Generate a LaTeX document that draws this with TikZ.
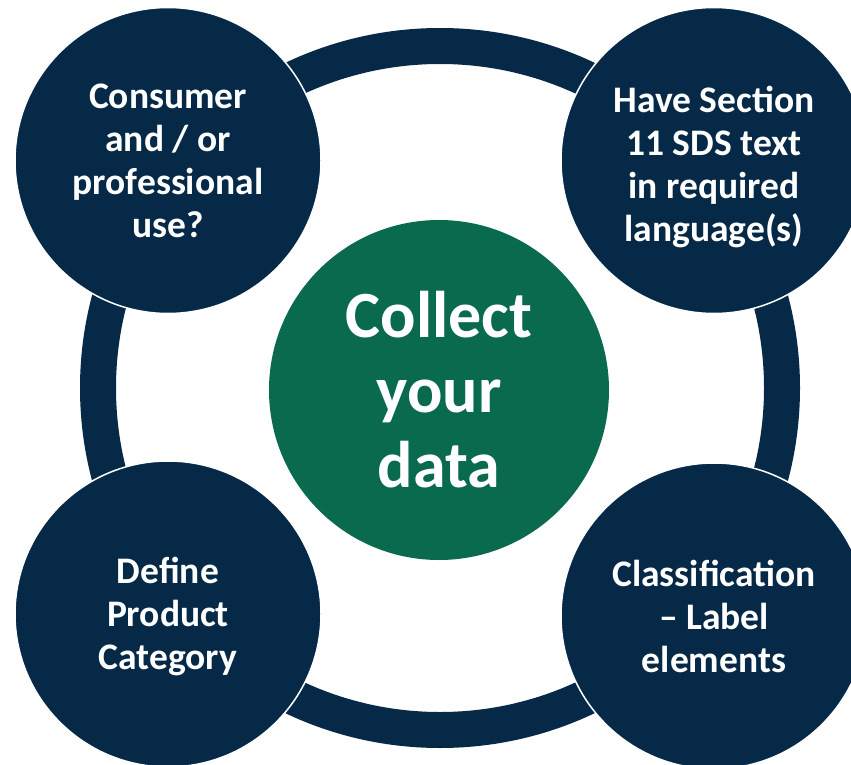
\documentclass[tikz,border=0pt]{standalone}
\usepackage{fontspec}
\setmainfont{Carlito}
\definecolor{navy}{HTML}{072948}
\definecolor{dgreen}{HTML}{0A6A4E}
\tikzset{
  bubble/.style={circle, fill=navy, draw=white, line width=1.5pt, minimum size=306pt, inner sep=0pt},
  btext/.style={inner sep=0pt, text=white, align=center, font=\bfseries\fontsize{37.5}{43}\selectfont},
  hub/.style={circle, fill=dgreen, minimum size=340pt, inner sep=0pt,
    text=white, align=center, font=\bfseries\fontsize{66}{75}\selectfont},
  ringstyle/.style={circle, draw=navy, line width=36pt, minimum size=684pt, inner sep=0pt}
}
\begin{document}
\begin{tikzpicture}[x=1pt,y=-1pt]
\useasboundingbox (0,0) rectangle (851,765);
\node[ringstyle] (ring) at (440,388) {};
\node[hub] (hubc) at (439,390) {Collect\\your\\data};
\node[bubble] (tl) at (168,160.5) {};
\node[bubble] (tr) at (714,160.5) {};
\node[bubble] (bl) at (168,614) {};
\node[bubble] (br) at (714,616) {};
\node[btext] (tlt) at ([yshift=0pt]tl.center) {Consumer\\and / or\\professional\\use?};
\node[btext] (trt) at ([yshift=-6pt]tr.center) {Have Section\\11 SDS text\\in required\\language(s)};
\node[btext] (blt) at ([yshift=-2pt]bl.center) {Define\\Product\\Category};
\node[btext] (brt) at (br.center) {Classification\\– Label\\elements};
\end{tikzpicture}
\end{document}
